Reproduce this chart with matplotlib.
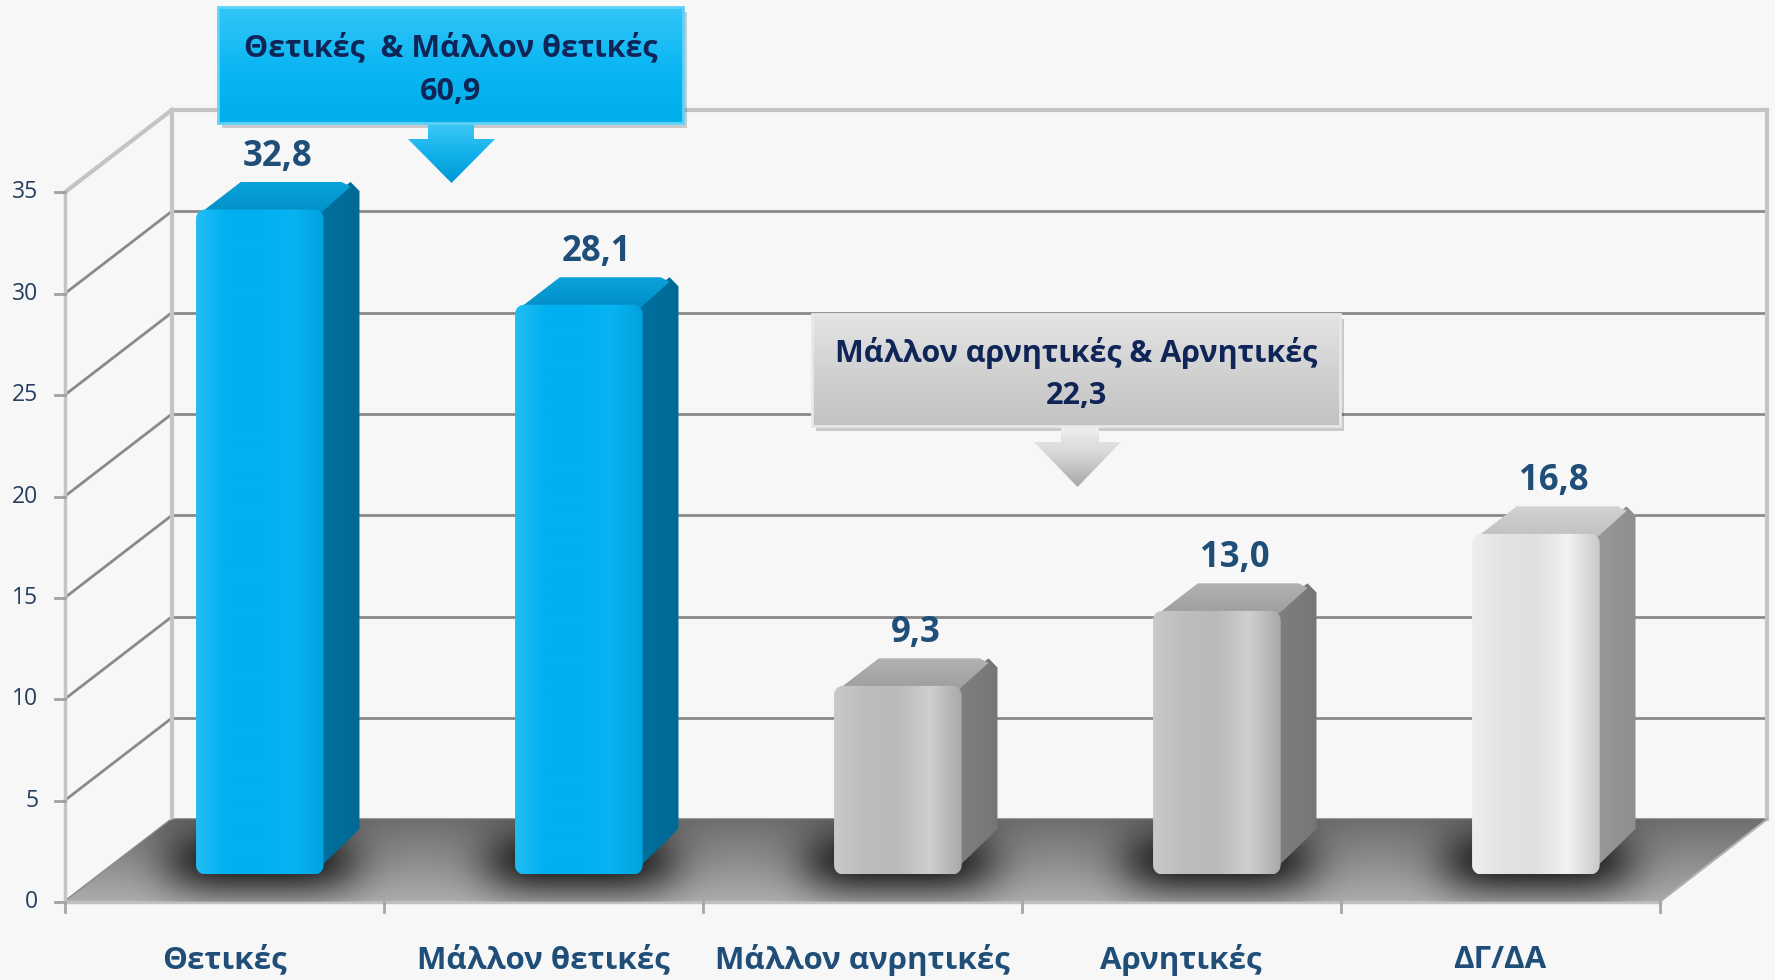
import numpy as np
import matplotlib
matplotlib.use("Agg")
import matplotlib.pyplot as plt
from matplotlib.patches import Polygon
from matplotlib.colors import LinearSegmentedColormap

plt.rcParams['font.family'] = ['Open Sans', 'DejaVu Sans']

# ---------------- data ----------------
categories = ['Θετικές', 'Μάλλον θετικές', 'Μάλλον ανρητικές', 'Αρνητικές', 'ΔΓ/ΔΑ']
values = [32.8, 28.1, 9.3, 13.0, 16.8]
bar_styles = ['blue', 'blue', 'gray', 'gray', 'light']
yticks = [0, 5, 10, 15, 20, 25, 30, 35]
pos_group = [0, 1]
neg_group = [2, 3]
pos_label = 'Θετικές  & Μάλλον θετικές'
neg_label = 'Μάλλον αρνητικές & Αρνητικές'


def fmt(v):
    return f'{v:.1f}'.replace('.', ',')


# ---------------- styles ----------------
FACE = {
    'blue': dict(front=['#22bdf4', '#00b0f0', '#00b0f0', '#08b4f2', '#00a2de'],
                 side=['#00709f', '#006a96'], top=['#0aa2da', '#008cc4']),
    'gray': dict(front=['#c9c9c9', '#bdbdbd', '#bababa', '#cfcfcf', '#a9a9a9'],
                 side=['#808080', '#767676'], top=['#b2b2b2', '#9a9a9a']),
    'light': dict(front=['#eeeeee', '#e3e3e3', '#e0e0e0', '#f2f2f2', '#c9c9c9'],
                  side=['#9a9a9a', '#8e8e8e'], top=['#d2d2d2', '#bdbdbd']),
}
VAL_COLOR = '#1f4e79'
CALLOUT_TEXT = '#0f2557'
GRID = '#8a8a8a'
EDGE = '#c4c4c4'

W_PX, H_PX = 1775, 980
fig = plt.figure(figsize=(W_PX / 100, H_PX / 100), dpi=100, facecolor='#f7f7f7')
ax = fig.add_axes([0, 0, 1, 1])
ax.set_facecolor('#f7f7f7')
ax.axis('off')

XLIM = (-0.2022, 5.362)
YLIM = (-3.848, 44.496)
N = len(categories)
YMAX = yticks[-1]
DX, DY = 0.337, 4.08      # full depth offset (data units)
BW = 0.40                 # bar width (category units)
F0, F1 = 1 / 3, 2 / 3     # bar depth span
RX, RY = 0.028, 0.45      # corner rounding (data units)


def grad_fill(a, verts, stops, direction='v', zorder=1):
    poly = Polygon(verts, closed=True, facecolor='none', edgecolor='none', zorder=zorder)
    a.add_patch(poly)
    xs = [v[0] for v in verts]
    ys = [v[1] for v in verts]
    cmap = LinearSegmentedColormap.from_list('g', stops)
    t = np.linspace(0, 1, 256)
    if direction == 'v':
        arr = np.repeat(t[:, None], 2, axis=1)
    else:
        arr = np.repeat(t[None, :], 2, axis=0)
    im = a.imshow(arr, cmap=cmap, extent=(min(xs), max(xs), min(ys), max(ys)),
                  origin='lower', aspect='auto', zorder=zorder, interpolation='bilinear')
    im.set_clip_path(poly)
    return poly


def rounded_rect(xl, xr, yb, yt, rx, ry, n=8):
    pts = []
    corners = [(xr - rx, yb + ry, -np.pi / 2, 0), (xr - rx, yt - ry, 0, np.pi / 2),
               (xl + rx, yt - ry, np.pi / 2, np.pi), (xl + rx, yb + ry, np.pi, 1.5 * np.pi)]
    for cx, cy, a0, a1 in corners:
        for a in np.linspace(a0, a1, n):
            pts.append((cx + rx * np.cos(a), cy + ry * np.sin(a)))
    return pts


# ---------------- walls & grid ----------------
for v in yticks:
    c, lw = (EDGE, 3) if v == YMAX else (GRID, 2)
    ax.plot([DX, N + DX], [v + DY, v + DY], color=c, lw=lw, zorder=1, solid_capstyle='butt')
    ax.plot([0, DX], [v, v + DY], color=c, lw=lw, zorder=1)
ax.plot([DX, DX], [DY, YMAX + DY], color=EDGE, lw=3, zorder=1)
ax.plot([N + DX, N + DX], [DY, YMAX + DY], color=EDGE, lw=3, zorder=1)
ax.plot([0, 0], [0, YMAX], color=EDGE, lw=2.5, zorder=3)
for v in yticks:
    ax.plot([-0.03, 0], [v, v], color='#a0a0a0', lw=2, zorder=3)
    ax.text(-0.082, v, str(v), ha='right', va='center', fontsize=16.5, color='#243f60')

# floor
floor = grad_fill(ax, [(0, 0), (N, 0), (N + DX, DY), (DX, DY)],
                  ['#adadad', '#8c8c8c', '#6e6e6e'], 'v', zorder=2)
ax.plot([0, N], [0, 0], color='#c0c0c0', lw=2.5, zorder=3)
ax.plot([N, N + DX], [0, DY], color='#b0b0b0', lw=1.5, zorder=3)
for k in range(N + 1):
    ax.plot([k, k], [0, -0.5], color='#a6a6a6', lw=2, zorder=3)

# shadows on the floor
for i in range(N):
    cx = i + 0.5 + DX * 0.5 - 0.05
    cy = DY * 0.5
    gx = np.linspace(cx - 0.6, cx + 0.6, 240)
    gy = np.linspace(cy - 3.5, cy + 3.5, 140)
    X, Y = np.meshgrid(gx, gy)
    alpha = 0.8 * np.exp(-(((X - cx) / 0.30) ** 4 + ((Y - cy) / 1.7) ** 2))
    rgba = np.zeros(X.shape + (4,))
    rgba[..., 3] = alpha
    im = ax.imshow(rgba, extent=(gx[0], gx[-1], gy[0], gy[-1]), origin='lower',
                   aspect='auto', zorder=4, interpolation='bilinear')
    im.set_clip_path(floor)

# ---------------- bars ----------------
for i, (v, st) in enumerate(zip(values, bar_styles)):
    s = FACE[st]
    xl = i + 0.5 - BW / 2 + DX * F0
    xr = xl + BW
    y0 = DY * F0
    y1 = v + DY * F0
    ddx, ddy = DX * (F1 - F0), DY * (F1 - F0)
    side = [(xr - RX, y0 + 0.1), (xr + ddx - RX, y0 + ddy + RY), (xr + ddx, y0 + ddy + 2 * RY),
            (xr + ddx, y1 + ddy - RY), (xr + ddx - RX, y1 + ddy), (xr - RX, y1)]
    grad_fill(ax, side, s['side'], 'h', zorder=6)
    top = [(xl, y1 - RY), (xr - RX, y1 - RY), (xr + ddx - RX, y1 + ddy - RY * 0.5),
           (xr + ddx - 2 * RX, y1 + ddy), (xl + ddx + RX, y1 + ddy), (xl + RX, y1)]
    grad_fill(ax, top, s['top'][::-1], 'v', zorder=6)
    grad_fill(ax, rounded_rect(xl, xr, y0, y1, RX, RY), s['front'], 'h', zorder=7)
    ax.text(i + 0.5 + DX * 0.5, v + DY * F1 + 1.25, fmt(v), ha='center', va='center',
            fontsize=25, fontweight='bold', color=VAL_COLOR, zorder=9)

# category labels
for k, c in enumerate(categories):
    ax.text(k + 0.5, -2.86, c, ha='center', va='center', fontsize=22.5,
            fontweight='bold', color=VAL_COLOR)

ax.set_xlim(*XLIM)
ax.set_ylim(*YLIM)

# ---------------- callouts (pixel layout overlay) ----------------
ov = fig.add_axes([0, 0, 1, 1], zorder=10)
ov.axis('off')
ov.patch.set_alpha(0)


def callout(box, stem, head, tip_y, box_stops, arr_stops, edge, lines):
    # stops are listed top -> bottom (overlay y axis points down)
    x0, y0, x1, y1 = box
    ov.add_patch(Polygon([(x0 + 4, y0 + 5), (x1 + 4, y0 + 5), (x1 + 4, y1 + 5), (x0 + 4, y1 + 5)],
                         closed=True, facecolor='#000000', alpha=0.18, edgecolor='none', zorder=1))
    grad_fill(ov, [(x0, y0), (x1, y0), (x1, y1), (x0, y1)], box_stops, 'v', zorder=2)
    ov.add_patch(Polygon([(x0, y0), (x1, y0), (x1, y1), (x0, y1)], closed=True,
                         facecolor='none', edgecolor=edge, lw=2, zorder=3))
    sx0, sx1 = stem
    hx0, hx1 = head
    hy = y1 + 16
    tipx = (hx0 + hx1) / 2
    arrow = [(sx0, y1), (sx1, y1), (sx1, hy), (hx1, hy), (tipx, tip_y), (hx0, hy), (sx0, hy)]
    grad_fill(ov, arrow, arr_stops, 'v', zorder=2)
    cx = (x0 + x1) / 2
    ov.text(cx, y0 + 0.35 * (y1 - y0), lines[0], ha='center', va='center', fontsize=22,
            fontweight='bold', color=CALLOUT_TEXT, zorder=4)
    ov.text(cx, y0 + 0.73 * (y1 - y0), lines[1], ha='center', va='center', fontsize=22,
            fontweight='bold', color=CALLOUT_TEXT, zorder=4)


pos_total = sum(values[i] for i in pos_group)
neg_total = sum(values[i] for i in neg_group)
callout((218, 7, 683, 123), (428, 474), (408, 495), 183,
        ['#34c6f8', '#0cb7f3', '#00aeea'], ['#3ec7f6', '#12b2ec', '#0096d2'], '#5ed2fa',
        [pos_label, fmt(pos_total)])
callout((812, 314, 1340, 426), (1061, 1099), (1034, 1121), 487,
        ['#e4e4e4', '#d2d2d2', '#c2c2c2'], ['#f0f0f0', '#d4d4d4', '#a6a6a6'], '#e8e8e8',
        [neg_label, fmt(neg_total)])

ov.set_xlim(0, W_PX)
ov.set_ylim(H_PX, 0)

fig.savefig('out.png', dpi=100, facecolor=fig.get_facecolor())
